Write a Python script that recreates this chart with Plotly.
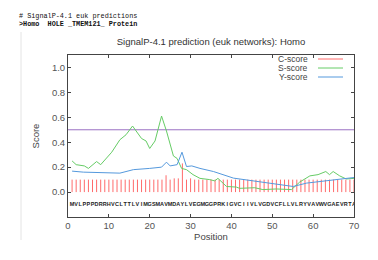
import plotly.graph_objects as go

# ---- data ----
sequence = "MVLPPPDRRHVCLTTLVIMGSMAVMDAYLVEGMGGPRKIGVCIIVLVGDVCFLLVLRYVAVWVGAEVRTA"
positions = list(range(1, 71))

c_score = [0.10, 0.10, 0.10, 0.10, 0.10, 0.10, 0.10, 0.10, 0.10, 0.10,
           0.10, 0.10, 0.10, 0.10, 0.10, 0.10, 0.10, 0.10, 0.10, 0.10,
           0.10, 0.10, 0.10, 0.135, 0.10, 0.11, 0.11, 0.23, 0.10, 0.11,
           0.10, 0.10, 0.10, 0.10, 0.10, 0.10, 0.10, 0.10, 0.10, 0.10,
           0.10, 0.10, 0.10, 0.10, 0.10, 0.10, 0.10, 0.10, 0.10, 0.10,
           0.10, 0.10, 0.10, 0.10, 0.10, 0.10, 0.10, 0.10, 0.10, 0.10,
           0.10, 0.10, 0.10, 0.10, 0.10, 0.10, 0.10, 0.10, 0.10, 0.10]

s_pos = [1, 2, 4, 5, 7, 8, 10.7, 12.7, 14.2, 15.8, 18, 19.1, 20, 21.3, 22.9,
         24.1, 25.8, 26.7, 27.8, 29, 30.6, 32.3, 34.7, 35.9, 36.7, 37.6, 38.8,
         41.2, 42, 45.7, 47.7, 51, 54.7, 56.7, 59.2, 61.2, 63.1, 64, 64.9,
         66.5, 68.1, 70]
s_val = [0.25, 0.22, 0.21, 0.19, 0.245, 0.22, 0.32, 0.42, 0.46, 0.53, 0.43,
         0.41, 0.35, 0.41, 0.61, 0.49, 0.29, 0.27, 0.19, 0.18, 0.14, 0.11,
         0.10, 0.09, 0.11, 0.08, 0.045, 0.04, 0.03, 0.035, 0.02, 0.025, 0.02,
         0.08, 0.13, 0.14, 0.165, 0.14, 0.165, 0.13, 0.105, 0.11]

y_pos = [1, 3.75, 12.7, 16, 20, 22.9, 24.1, 25, 26.7, 27.9, 29, 30.3, 32.3,
         35.6, 40.5, 44.6, 48.6, 52.3, 55.1, 58.4, 63.3, 66.5, 70]
y_val = [0.168, 0.16, 0.152, 0.18, 0.19, 0.20, 0.24, 0.21, 0.22, 0.32, 0.205,
         0.21, 0.19, 0.165, 0.112, 0.093, 0.072, 0.056, 0.045, 0.072, 0.093,
         0.107, 0.117]

threshold = 0.5
x_ticks = [0, 10, 20, 30, 40, 50, 60, 70]
y_ticks = [0.0, 0.2, 0.4, 0.6, 0.8, 1.0]

C_COL = "#ff6b6b"
S_COL = "#66cc66"
Y_COL = "#5599dd"
T_COL = "#9a70c4"
FONT = "Liberation Sans"

# layout geometry (figure pixels; page body adds an 8px offset on screen)
L, R, T, B = 60, 346, 47, 209
W, H = 378, 260
PW, PH = R - L, B - T

fig = go.Figure()

# C-score impulses
cx, cy = [], []
for p, v in zip(positions, c_score):
    cx += [p, p, None]
    cy += [0, v, None]
fig.add_trace(go.Scatter(x=cx, y=cy, mode="lines", line=dict(color=C_COL, width=1),
                         name="C-score", showlegend=False, hoverinfo="skip"))

# threshold
fig.add_trace(go.Scatter(x=[positions[0] - 1, positions[-1]], y=[threshold, threshold],
                         mode="lines", line=dict(color=T_COL, width=1),
                         showlegend=False, hoverinfo="skip"))

fig.add_trace(go.Scatter(x=s_pos, y=s_val, mode="lines", line=dict(color=S_COL, width=1),
                         name="S-score", showlegend=False))
fig.add_trace(go.Scatter(x=y_pos, y=y_val, mode="lines", line=dict(color=Y_COL, width=1),
                         name="Y-score", showlegend=False))

# sequence letters
fig.add_trace(go.Scatter(x=positions, y=[-0.1] * len(positions), mode="text",
                         text=list(sequence),
                         textfont=dict(family="Liberation Sans", size=5.5, color="#222",
                                       weight="bold"),
                         showlegend=False, hoverinfo="skip"))

axis_common = dict(showline=True, linecolor="#444", linewidth=1, mirror="ticks",
                   ticks="inside", ticklen=3, tickcolor="#444", showgrid=False,
                   zeroline=False,
                   tickfont=dict(family=FONT, size=9.5, color="#555"))

fig.update_xaxes(range=[0, 70], tickvals=x_ticks,
                 title=dict(text="Position", font=dict(family=FONT, size=9.5, color="#444"),
                            standoff=2),
                 **axis_common)
fig.update_yaxes(range=[-0.2, 1.1], tickvals=y_ticks, tickformat=".1f",
                 title=dict(text="Score", font=dict(family=FONT, size=9.5, color="#444"),
                            standoff=10),
                 **axis_common)

# manual gnuplot-style legend (text then line sample)
legend_items = [("C-score", C_COL), ("S-score", S_COL), ("Y-score", Y_COL)]
annotations = []
shapes = []
for i, (lab, col) in enumerate(legend_items):
    yp = 1.0 - (4 + i * 9) / PH
    annotations.append(dict(x=(302 - L) / PW, y=yp, xref="paper", yref="paper",
                            text=lab, showarrow=False, xanchor="right", yanchor="middle",
                            font=dict(family=FONT, size=8.5, color="#444")))
    shapes.append(dict(type="line", xref="paper", yref="paper",
                       x0=(310 - L) / PW, x1=(335 - L) / PW, y0=yp, y1=yp,
                       line=dict(color=col, width=1)))

# header text lines
header = ["# SignalP-4.1 euk predictions", ">Homo  HOLE _TMEM121_ Protein"]
for i, line in enumerate(header):
    annotations.append(dict(x=(9 - L) / PW, y=(B - (8 + 8 * i)) / PH,
                            xref="paper", yref="paper", text=line, showarrow=False,
                            xanchor="left", yanchor="middle",
                            font=dict(family="Liberation Mono", size=6.8, color="#111",
                                      weight="bold" if i == 1 else "normal")))

# faint page border line on the left
shapes.append(dict(type="line", xref="paper", yref="paper",
                   x0=(13 - L) / PW, x1=(13 - L) / PW,
                   y0=(B - 24) / PH, y1=(B - 232) / PH,
                   line=dict(color="#e4e4e4", width=1)))

fig.update_layout(
    width=W, height=H,
    margin=dict(l=L, r=W - R, t=T, b=H - B),
    paper_bgcolor="white", plot_bgcolor="white",
    title=dict(text="SignalP-4.1 prediction (euk networks): Homo",
               x=203 / W, xanchor="center", y=1 - 34 / H, yanchor="middle",
               font=dict(family=FONT, size=9.5, color="#333")),
    annotations=annotations, shapes=shapes,
    showlegend=False,
)

fig.write_html("out.html")
